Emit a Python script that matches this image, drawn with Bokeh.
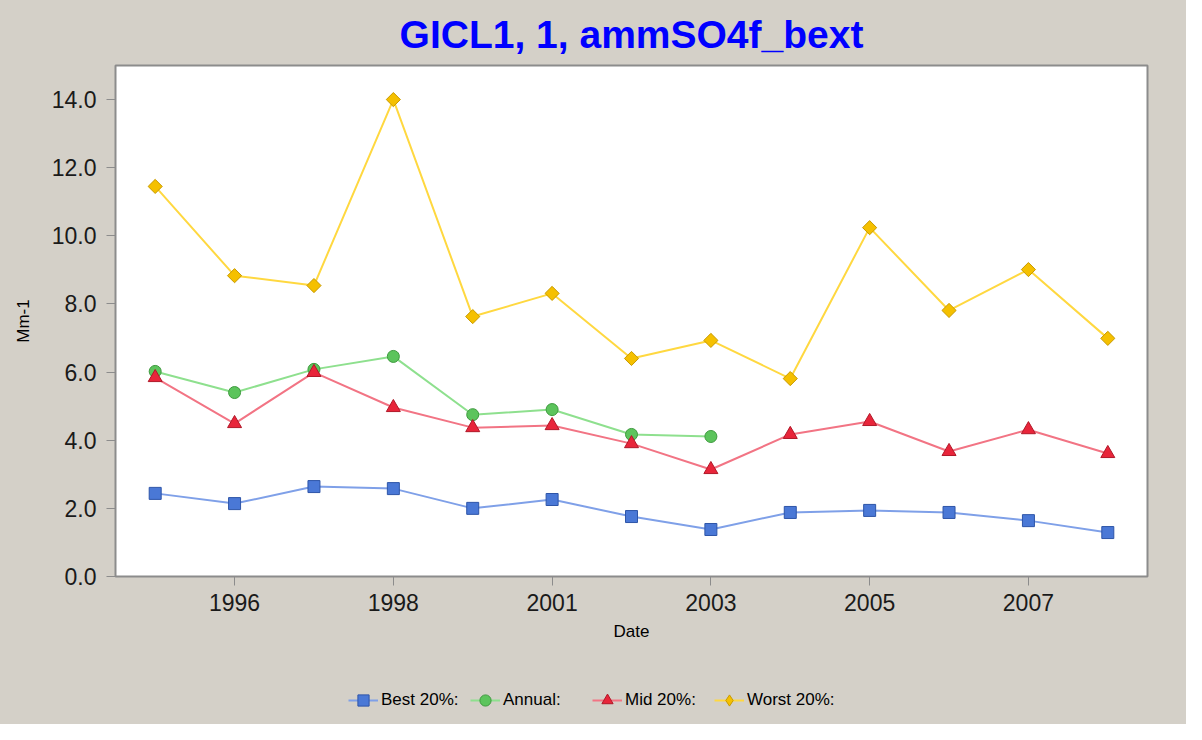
import math
from bokeh.plotting import figure
from bokeh.layouts import column
from bokeh.models import FixedTicker, Legend, LegendItem, Range1d, NumeralTickFormatter
from bokeh.embed import file_html
from bokeh.resources import INLINE

years = ["1995", "1996", "1997", "1998", "2000", "2001", "2002",
         "2003", "2004", "2005", "2006", "2007", "2008"]
tick_labels = ["1996", "1998", "2001", "2003", "2005", "2007"]
y_ticks = [0, 2, 4, 6, 8, 10, 12, 14]

best = [2.44, 2.14, 2.64, 2.58, 2.00, 2.26, 1.76, 1.38, 1.88, 1.94, 1.88, 1.64, 1.29]
annual = [6.02, 5.40, 6.08, 6.46, 4.75, 4.90, 4.17, 4.11]
mid = [5.84, 4.49, 5.99, 4.96, 4.37, 4.43, 3.90, 3.14, 4.17, 4.55, 3.67, 4.31, 3.61]
worst = [11.45, 8.83, 8.54, 14.00, 7.63, 8.31, 6.40, 6.93, 5.81, 10.24, 7.81, 9.01, 6.99]

FONT = "Liberation Sans"
BG = "#D4D0C8"
W = 1186

p = figure(frame_width=1032, frame_height=511, output_backend="svg", toolbar_location=None,
           x_range=Range1d(-0.5, len(years) - 0.5), y_range=Range1d(0, 15),
           background_fill_color="white", border_fill_color=BG,
           min_border_left=115, min_border_right=W - 1147, min_border_top=65,
           min_border_bottom=84)

p.title.text = "GICL1, 1, ammSO4f_bext"
p.title.align = "center"
p.title.text_font = FONT
p.title.text_font_size = "39px"
p.title.text_font_style = "bold"
p.title.text_color = "#0000FF"
p.title.offset = 0
p.title.standoff = 20

p.outline_line_color = "#8C8C8C"
p.outline_line_width = 2
p.xgrid.visible = False
p.ygrid.visible = False

xs = list(range(len(years)))
p.xaxis.ticker = FixedTicker(ticks=[years.index(t) for t in tick_labels])
p.xaxis.major_label_overrides = {years.index(t): t for t in tick_labels}
p.yaxis.ticker = FixedTicker(ticks=y_ticks)
p.yaxis.formatter = NumeralTickFormatter(format="0.0")
p.xaxis.axis_label = "Date"
p.yaxis.axis_label = "Mm-1"

for ax in (p.xaxis[0], p.yaxis[0]):
    ax.axis_line_color = "#8C8C8C"
    ax.major_tick_line_color = "#8C8C8C"
    ax.major_tick_out = 9
    ax.major_tick_in = 0
    ax.minor_tick_line_color = None
    ax.major_label_text_font = FONT
    ax.major_label_text_font_size = "23px"
    ax.major_label_text_color = "#1A1A1A"
    ax.major_label_standoff = 8
    ax.axis_label_text_font = FONT
    ax.axis_label_text_font_size = "17px"
    ax.axis_label_text_font_style = "normal"
    ax.axis_label_text_color = "#000000"
    ax.axis_label_standoff = 8
p.yaxis.major_label_standoff = 10
p.yaxis.axis_label_standoff = 16

# name, values, marker (chart), marker (legend), line, fill, outline, size, angle
series = [
    ("Best 20%:", best, "square", "square", "#7FA0E8", "#4A78D6", "#2E55A8", 12, 0.0),
    ("Annual:", annual, "circle", "circle", "#8EE08E", "#5CC45C", "#3E9A3E", 12, 0.0),
    ("Mid 20%:", mid, "triangle", "triangle", "#F27484", "#E8253A", "#B01828", 14, 0.0),
    ("Worst 20%:", worst, "square", "diamond", "#FFD840", "#F5C000", "#C89A00", 10, math.pi / 4),
]

# legend strip as its own figure below the chart
lg = figure(width=W, height=724 - 660, output_backend="svg", toolbar_location=None,
            x_range=Range1d(0, 1), y_range=Range1d(0, 1),
            x_axis_type=None, y_axis_type=None,
            background_fill_color=None, border_fill_color=BG,
            min_border_left=115, min_border_right=W - 1147,
            min_border_top=0, min_border_bottom=0, outline_line_color=None)
lg.xgrid.visible = False
lg.ygrid.visible = False

items = []
for name, vals, marker, lmarker, lc, fc, oc, sz, ang in series:
    x = xs[:len(vals)]
    p.line(x, vals, line_color=lc, line_width=2)
    p.scatter(x, vals, marker=marker, size=sz, angle=ang,
              fill_color=fc, line_color=oc, line_width=1)
    # legend-only renderers, placed outside the strip's visible range
    d1 = lg.line([-5, -4], [-5, -4], line_color=lc, line_width=2)
    d2 = lg.scatter([-5], [-5], marker=lmarker, size=sz,
                    fill_color=fc, line_color=oc, line_width=1)
    items.append(LegendItem(label=name, renderers=[d1, d2]))

legend = Legend(items=items, orientation="horizontal", location=(223, 0),
                background_fill_alpha=0, border_line_alpha=0,
                label_text_font=FONT, label_text_font_size="17px",
                label_text_color="#000000",
                glyph_width=30, glyph_height=28, label_standoff=3,
                label_width=89, spacing=0, padding=10, margin=0)
lg.add_layout(legend, "center")

layout = column(p, lg, spacing=0, styles={"background-color": BG})
open("out.html", "w").write(file_html(layout, INLINE))
